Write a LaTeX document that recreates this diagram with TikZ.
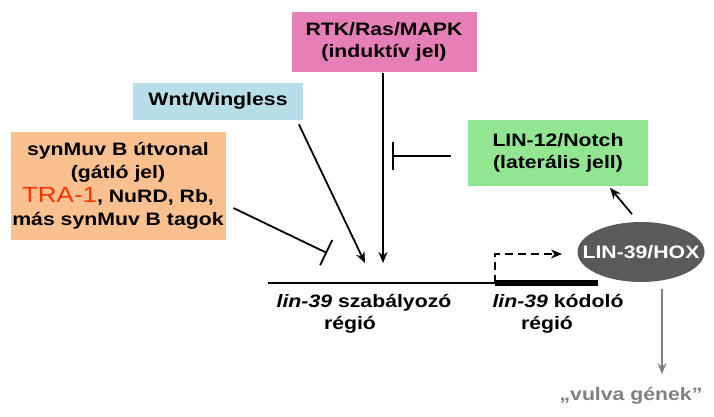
\documentclass[tikz,border=0pt]{standalone}
\usepackage{fontspec}
\setmainfont{Liberation Sans}[FakeStretch=1.18]
\usetikzlibrary{arrows.meta,shapes.geometric}
\definecolor{rtkpink}{RGB}{230,126,184}
\definecolor{wntblue}{RGB}{183,221,232}
\definecolor{synpeach}{RGB}{250,192,144}
\definecolor{notchgreen}{RGB}{146,230,146}
\definecolor{hoxgray}{RGB}{90,90,90}
\definecolor{trared}{RGB}{255,51,0}
\definecolor{genegray}{RGB}{128,128,128}

\begin{document}
\begin{tikzpicture}[x=1pt, y=-1pt, font=\fontsize{18}{22}\selectfont\bfseries,
  >={Stealth[length=11pt,width=9pt]}, line width=1.8pt,
  sigbox/.style={inner sep=0pt, align=center},
  inhib/.style={-{Bar[width=28pt,line width=1.8pt]}}]
\useasboundingbox (0,0) rectangle (714,416);
% signal boxes
\node[sigbox, fill=rtkpink, minimum width=185pt, minimum height=60pt] (rtk) at (384,42) {RTK/Ras/MAPK\\(induktív jel)};
\node[sigbox, fill=wntblue, minimum width=170pt, minimum height=37pt] (wnt) at (218,101) {Wnt/Wingless};
\node[sigbox, fill=synpeach, minimum width=215pt, minimum height=108pt, font=\fontsize{18}{23.5}\selectfont\bfseries] (syn) at (118,186)
  {synMuv B útvonal\\(gátló jel)\\{\fontsize{22}{23.5}\selectfont\mdseries\color{trared}TRA-1}, NuRD, Rb,\\más synMuv B tagok};
\node[sigbox, fill=notchgreen, minimum width=180pt, minimum height=66pt] (notch) at (558,153) {LIN-12/Notch\\(laterális jell)};
\node[ellipse, fill=hoxgray, text=white, minimum width=127pt, minimum height=60pt, inner xsep=-14pt, inner ysep=0pt] (hox) at (641,252) {LIN-39/HOX};
% gene
\coordinate (regL) at (268,283);
\coordinate (tss) at (495,283);
\coordinate (codR) at (598,283);
\draw (regL) -- (tss);
\draw[line width=6pt] (tss) -- (codR);
\draw[->, dash pattern=on 8pt off 5pt] (tss) -- ++(0,-29) -- (562,254);
\node[align=center] (reglab) at (364,314) {\textit{lin-39} szabályozó\\régió\hspace*{28pt}};
\node[align=center] (codlab) at (558,314) {\textit{lin-39} kódoló\\régió\hspace*{22pt}};
% signals onto the regulatory region
\coordinate (rtktip) at (383,263);
\coordinate (wnttip) at (365,263);
\coordinate (syntip) at (327,253);
\coordinate (notchtip) at (392,156);
\draw[->] (rtk.south -| rtktip) -- (rtktip);
\draw[->] ([xshift=-5pt,yshift=-4pt]wnt.south east) -- (wnttip);
\draw[inhib] ([xshift=7pt,yshift=-22pt]syn.east) -- (syntip);
\draw[inhib] ([xshift=-16pt,yshift=-3pt]notch.west) -- (notchtip);
\draw[->] ([xshift=-9pt,yshift=7pt]hox.north) -- ([xshift=52pt,yshift=-1pt]notch.south);
% targets
\node[text=genegray] (genes) at (631,396) {„vulva gének”};
\coordinate (genetip) at (662,374);
\draw[->, genegray, line width=1.5pt] ([xshift=21pt,yshift=-6pt]hox.south) -- (genetip);
\end{tikzpicture}
\end{document}
